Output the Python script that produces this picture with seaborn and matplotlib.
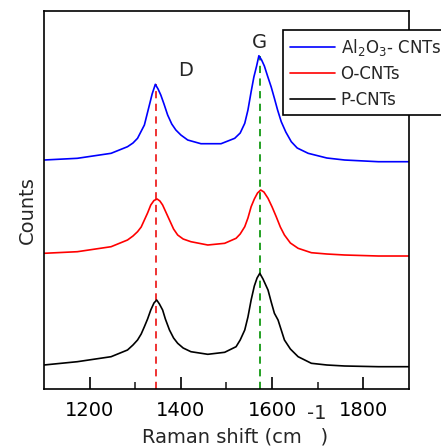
import numpy as np
import pandas as pd
import matplotlib
matplotlib.use("Agg")
import matplotlib.pyplot as plt
import seaborn as sns

# Raman spectra (stacked with vertical offsets, arbitrary counts)
shift_al2o3 = [1100, 1173, 1247, 1283, 1295, 1305, 1320, 1331, 1337, 1344, 1350, 1356, 1363,
               1371, 1380, 1389, 1400, 1415, 1444, 1488, 1518, 1530, 1540, 1547, 1554, 1560,
               1566, 1571, 1577, 1583, 1590, 1598, 1605, 1612, 1620, 1630, 1642, 1655, 1679,
               1720, 1759, 1833, 1900]
counts_al2o3 = [229, 230.7, 235.7, 242.3, 246, 250.7, 264, 284, 295, 304.7, 300, 294, 285,
                274, 265, 259, 254, 249, 245.3, 245.3, 250.7, 256, 265.7, 279, 297.3, 312,
                323, 333.3, 329, 323, 313, 302, 290.7, 279, 267.3, 257, 247.3, 241, 235.7,
                231, 229, 227.3, 227.3]

shift_o = [1100, 1173, 1247, 1283, 1295, 1305, 1313, 1320, 1327, 1334, 1341, 1348, 1354,
           1360, 1367, 1375, 1384, 1393, 1405, 1422, 1459, 1496, 1521, 1530, 1540, 1547,
           1554, 1561, 1568, 1575, 1582, 1591, 1600, 1609, 1618, 1627, 1640, 1657, 1686,
           1720, 1759, 1833, 1900]
counts_o = [135.7, 137.3, 142.3, 149, 153, 157.3, 162, 169, 176, 184, 188.5, 190, 188,
            184, 177, 169, 160, 154, 150, 147.3, 144, 145.7, 150.7, 155, 162.3, 171,
            182.3, 190, 196, 199, 197, 190.7, 182, 172.3, 162, 154, 146, 140.7, 136.3,
            135, 134, 133, 133]

shift_p = [1100, 1173, 1247, 1283, 1295, 1305, 1313, 1320, 1327, 1334, 1341, 1347, 1353,
           1360, 1366, 1375, 1384, 1393, 1405, 1422, 1459, 1496, 1521, 1530, 1540, 1547,
           1554, 1561, 1567, 1573, 1580, 1591, 1598, 1605, 1613, 1620, 1627, 1640, 1657,
           1686, 1720, 1759, 1833, 1900]
counts_p = [24, 27.3, 32.3, 39, 44, 49, 55, 62.3, 70, 79, 86, 89, 85,
            79, 70, 59, 51, 45.7, 41, 37.3, 34.7, 36.7, 42.3, 49, 59, 72,
            89, 103, 111, 115.7, 110, 99, 87, 75.7, 69, 59, 49, 40, 32.3,
            25.7, 24, 23, 22.3, 22.3]

labels = ["Al$_2$O$_3$- CNTs", "O-CNTs", "P-CNTs"]
colors = ["#0000ff", "#ff0000", "#000000"]

# Band positions (cm^-1) and the heights the guide lines reach
d_band = 1345
g_band = 1573
d_top = 304.7
g_top = 333.3

xticks = [1200, 1400, 1600, 1800]
xminor = [1300, 1500, 1700]

frames = []
for lab, xs, ys in zip(labels, [shift_al2o3, shift_o, shift_p],
                       [counts_al2o3, counts_o, counts_p]):
    frames.append(pd.DataFrame({"shift": xs, "counts": ys, "sample": lab}))
df = pd.concat(frames, ignore_index=True)

sns.set_theme(style="white")
plt.rcParams["font.family"] = ["DejaVu Sans"]

fig = plt.figure(figsize=(4.41, 4.48), dpi=100)
ax = fig.add_axes([0.0998, 0.1317, 0.8276, 0.8437])

sns.lineplot(data=df, x="shift", y="counts", hue="sample", palette=colors,
             hue_order=labels, sort=False, estimator=None, linewidth=1.2, ax=ax,
             legend=False)

ax.plot([d_band, d_band], [0, d_top], color="#ee2222", ls=(0, (4, 3)), lw=1.3, zorder=1)
ax.plot([g_band, g_band], [0, g_top], color="#119911", ls=(0, (4, 3)), lw=1.3, zorder=1)

ax.set_xlim(1100, 1900)
ax.set_ylim(0, 378)
ax.set_xticks(xticks)
ax.set_xticks(xminor, minor=True)
ax.set_yticks([])
ax.tick_params(axis="x", which="major", direction="in", length=9, width=1.2,
               labelsize=14, pad=9, colors="black", bottom=True)
ax.tick_params(axis="x", which="minor", direction="in", length=5, width=1.2, bottom=True)
for s in ax.spines.values():
    s.set_color("black")
    s.set_linewidth(1.2)

ax.set_xlabel("")
ax.set_ylabel("")
fig.text(0.533, 0.025, "Raman shift (cm   )", ha="center", va="center", fontsize=14)
fig.text(0.718, 0.078, "-1", ha="center", va="center", fontsize=14)
fig.text(0.063, 0.531, "Counts", ha="center", va="center", rotation=90, fontsize=14)

ax.text(1411, 318.5, "D", ha="center", va="center", fontsize=14)
ax.text(1572, 347, "G", ha="center", va="center", fontsize=14)

handles = [plt.Line2D([], [], color=c, lw=1.2) for c in colors]
leg = fig.legend(handles, labels, loc="upper left", bbox_to_anchor=(0.642, 0.933),
                 fontsize=12, frameon=True, fancybox=False, handlelength=2.7,
                 handletextpad=0.35, labelspacing=0.45, borderpad=0.4,
                 borderaxespad=0)
leg.get_frame().set_edgecolor("black")
leg.get_frame().set_linewidth(1.2)
leg.get_frame().set_alpha(1)

fig.savefig("out.png", dpi=100)
